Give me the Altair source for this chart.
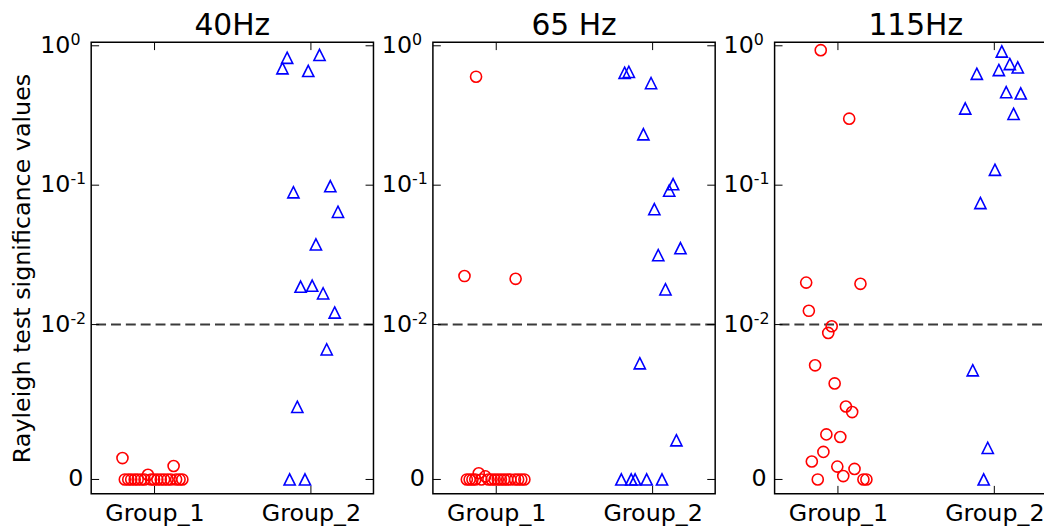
import altair as alt
import pandas as pd
import math

FONT = "DejaVu Sans"

panel_titles = ["40Hz", "65 Hz", "115Hz"]
groups = ["Group_1", "Group_2"]
group_colors = ["#ff0000", "#0000ff"]
group_shapes = ["circle", "M0,-1L1,1L-1,1Z"]
group_sizes = [125, 128]

# ---- 40Hz ----
g1_x_40 = [0.795, 1.122, 0.958, 0.81, 0.832, 0.851, 0.873, 0.892, 0.915, 0.936,
           0.978, 0.997, 1.018, 1.04, 1.061, 1.083, 1.104, 1.138, 1.16, 1.178]
g1_p_40 = [0.00138, 0.00087, 0.0003, 0, 0, 0, 0, 0, 0, 0,
           0, 0, 0, 0, 0, 0, 0, 0, 0, 0]
g2_x_40 = [1.848, 1.818, 2.055, 1.983, 1.888, 2.124, 2.173, 2.032, 1.934, 2.008,
           2.078, 2.152, 2.101, 1.913, 1.864, 1.962]
g2_p_40 = [0.82, 0.69, 0.86, 0.66, 0.0889, 0.0983, 0.0644, 0.0376, 0.0187, 0.0190,
           0.01675, 0.0122, 0.0084, 0.00469, 0, 0]

# ---- 65 Hz ----
g1_x_65 = [0.871, 0.797, 1.124, 0.888, 0.93, 0.812, 0.83, 0.848, 0.866, 0.905,
           0.95, 0.97, 0.99, 1.01, 1.03, 1.05, 1.07, 1.09, 1.12, 1.14, 1.16, 1.18]
g1_p_65 = [0.60, 0.0223, 0.0213, 0.0004, 0.0002, 0, 0, 0, 0, 0,
           0, 0, 0, 0, 0, 0, 0, 0, 0, 0, 0, 0]
g2_x_65 = [1.821, 1.848, 1.990, 1.941, 2.131, 2.106, 2.011, 2.178, 2.036, 2.082,
           1.918, 2.152, 1.800, 1.863, 1.888, 1.962, 2.060]
g2_p_65 = [0.64, 0.65, 0.54, 0.232, 0.1016, 0.0914, 0.0673, 0.0353, 0.0315, 0.0179,
           0.0075, 0.00253, 0, 0, 0, 0, 0]

# ---- 115Hz ----
g1_x_115 = [0.890, 1.072, 0.797, 1.144, 0.814, 0.960, 0.938, 0.854, 0.979, 1.051,
            1.091, 0.926, 1.015, 0.907, 0.833, 0.996, 1.106, 1.034, 0.871, 1.163, 1.182]
g1_p_115 = [0.93, 0.30, 0.0200, 0.0196, 0.01256, 0.00989, 0.00946, 0.00737, 0.0062, 0.00471,
            0.00435, 0.00291, 0.00274, 0.00178, 0.00116, 0.00083, 0.00068, 0.00022, 0, 0, 0]
g2_x_115 = [2.048, 2.099, 2.150, 2.029, 1.888, 2.076, 2.169, 1.814, 2.123, 2.004,
            1.911, 1.862, 1.958, 1.932]
g2_p_115 = [0.91, 0.74, 0.70, 0.67, 0.63, 0.465, 0.455, 0.355, 0.325, 0.129,
            0.0745, 0.00705, 0.00204, 0]

threshold = [0.01]
ytick_values = [0, 0.01, 0.1, 1]
ytick_base = ["0", "10", "10", "10"]
ytick_exp = ["", "-2", "-1", "0"]
xtick_values = [1, 2]
y_title = "Rayleigh test significance values"

# symlog (matplotlib style) parameters
LINTHRESH = 0.01
LINSCALE_ADJ = 1.0 / (1 - 1 / 10.0)

T_EXPR = (f"datum.p <= {LINTHRESH} ? datum.p / {LINTHRESH} * {LINSCALE_ADJ} : "
          f"{LINSCALE_ADJ} + log(datum.p / {LINTHRESH}) / LN10")

xlab_expr = f"datum.value == 1 ? '{groups[0]}' : '{groups[1]}'"

Y_DOMAIN = [-0.103, 3.137]
X_DOMAIN = [0.595, 2.4]
W = 285
H = 456
TICK = 8


def make_df(x1, p1, x2, p2):
    rows = [{"x": x, "p": p, "group": groups[0]} for x, p in zip(x1, p1)]
    rows += [{"x": x, "p": p, "group": groups[1]} for x, p in zip(x2, p2)]
    return pd.DataFrame(rows)


def panel(title, df, ytitle):
    xs = alt.Scale(domain=X_DOMAIN, nice=False, zero=False)
    ys = alt.Scale(domain=Y_DOMAIN, nice=False, zero=False)
    xaxis = alt.Axis(values=xtick_values, labelExpr=xlab_expr, ticks=False, domain=False,
                     grid=False, labelPadding=8, title=None)
    if ytitle:
        yaxis = alt.Axis(labels=False, ticks=False, domain=False, grid=False,
                         title=ytitle, titlePadding=57)
    else:
        yaxis = None

    pts = alt.Chart(df).transform_calculate(t=T_EXPR).mark_point(
        filled=False, strokeWidth=1.6, opacity=1
    ).encode(
        x=alt.X("x:Q", scale=xs, axis=xaxis),
        y=alt.Y("t:Q", scale=ys, axis=yaxis),
        shape=alt.Shape("group:N", scale=alt.Scale(domain=groups, range=group_shapes), legend=None),
        color=alt.Color("group:N", scale=alt.Scale(domain=groups, range=group_colors), legend=None),
        size=alt.Size("group:N", scale=alt.Scale(domain=groups, range=group_sizes), legend=None),
    )

    dash = alt.Chart(pd.DataFrame({"p": threshold})).transform_calculate(t=T_EXPR).mark_rule(
        strokeDash=[10, 5], color="#3a3a3a", strokeWidth=2
    ).encode(y=alt.Y("t:Q", scale=ys, axis=yaxis))

    ytdf = pd.DataFrame({"p": ytick_values, "base": ytick_base, "exp": ytick_exp})
    ybase = alt.Chart(ytdf).transform_calculate(t=T_EXPR)
    yt_left = ybase.mark_rule(color="black", strokeWidth=1).encode(
        y=alt.Y("t:Q", scale=ys, axis=yaxis), x=alt.value(0), x2=alt.value(TICK))
    yt_right = ybase.mark_rule(color="black", strokeWidth=1).encode(
        y=alt.Y("t:Q", scale=ys, axis=yaxis), x=alt.value(W - TICK), x2=alt.value(W))
    lab_zero = ybase.transform_filter("datum.exp == ''").mark_text(
        align="right", baseline="middle", fontSize=24, font=FONT, color="black"
    ).encode(y=alt.Y("t:Q", scale=ys, axis=yaxis), x=alt.value(-8), text="base:N")
    lab_ten = ybase.transform_filter("datum.exp != ''").mark_text(
        align="right", baseline="middle", fontSize=24, font=FONT, color="black"
    ).encode(y=alt.Y("t:Q", scale=ys, axis=yaxis), x=alt.value(-21), text="base:N")
    lab_exp = ybase.transform_filter("datum.exp != ''").mark_text(
        align="left", baseline="middle", fontSize=16, font=FONT, color="black", dy=-6
    ).encode(y=alt.Y("t:Q", scale=ys, axis=yaxis), x=alt.value(-21), text="exp:N")

    xtdf = pd.DataFrame({"x": xtick_values})
    xt_bot = alt.Chart(xtdf).mark_rule(color="black", strokeWidth=1).encode(
        x=alt.X("x:Q", scale=xs, axis=xaxis), y=alt.value(H - TICK), y2=alt.value(H))
    xt_top = alt.Chart(xtdf).mark_rule(color="black", strokeWidth=1).encode(
        x=alt.X("x:Q", scale=xs, axis=xaxis), y=alt.value(0), y2=alt.value(TICK))

    return alt.layer(dash, yt_left, yt_right, xt_bot, xt_top, lab_zero, lab_ten, lab_exp, pts).properties(
        width=W, height=H,
        title=alt.Title(title, fontSize=30, font=FONT, fontWeight="normal",
                        baseline="alphabetic", offset=-33, color="black", frame="group"),
    )


p1 = panel(panel_titles[0], make_df(g1_x_40, g1_p_40, g2_x_40, g2_p_40), y_title)
p2 = panel(panel_titles[1], make_df(g1_x_65, g1_p_65, g2_x_65, g2_p_65), None)
p3 = panel(panel_titles[2], make_df(g1_x_115, g1_p_115, g2_x_115, g2_p_115), None)

# negative right/bottom padding clips the overflowing edge like the reference crop
chart = alt.hconcat(p1, p2, p3, spacing=60, bounds="flush").properties(
    padding={"left": 2, "top": -1, "right": -15, "bottom": -2}
).configure(font=FONT).configure_view(
    stroke="black", strokeWidth=1.5
).configure_axis(
    labelFont=FONT, titleFont=FONT, labelFontSize=24, titleFontSize=24,
    titleFontWeight="normal", labelColor="black", titleColor="black"
)

chart.save("out.html", embed_options={"renderer": "svg", "actions": False})
